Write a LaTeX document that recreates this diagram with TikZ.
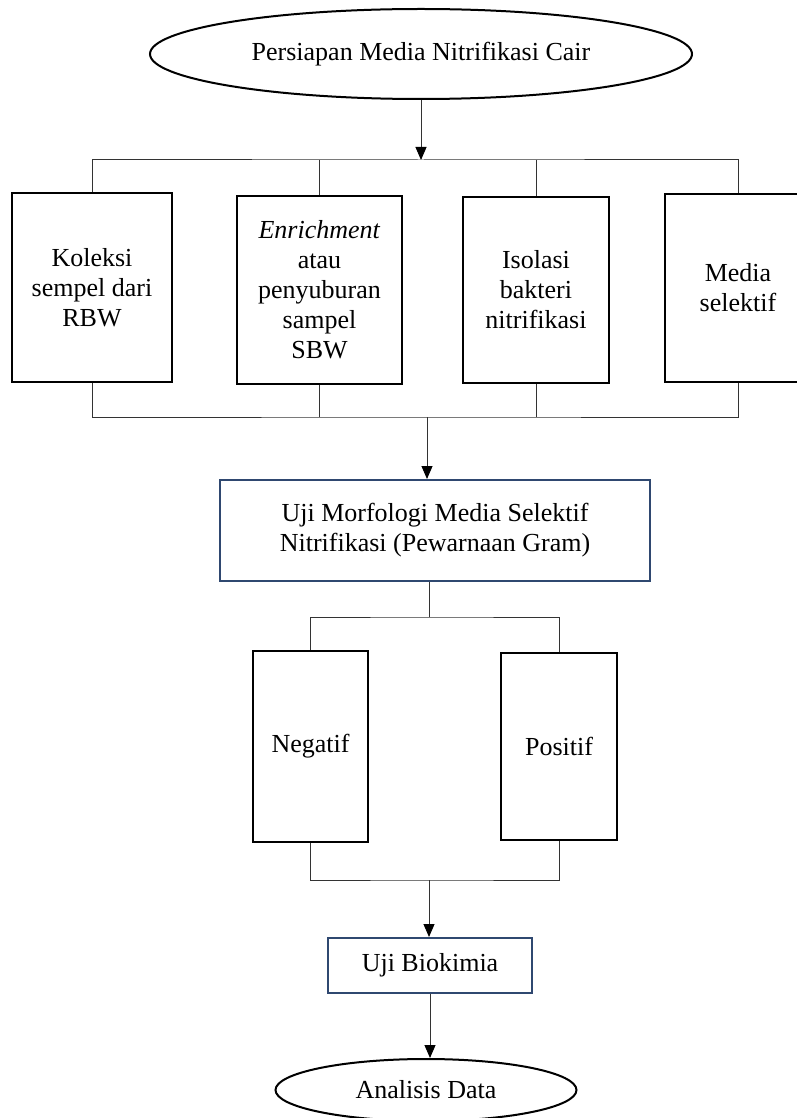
\documentclass[tikz,border=0pt]{standalone}
\usepackage{fontspec}
\setmainfont{Liberation Serif}
\usepackage{xcolor}
\usepackage{tikz}
\usetikzlibrary{calc,arrows.meta,shapes.geometric}
\definecolor{boxblue}{RGB}{47,72,112}

\begin{document}
\begin{tikzpicture}
    % one unit = one pixel of the sheet, y runs downwards
    [x={(0.5pt,0pt)},y={(0pt,-0.5pt)},
     font=\fontsize{13}{15}\selectfont,
     every node/.style={align=center,inner sep=0pt},
     oval/.style={ellipse,draw,line width=1pt},
     tallbox/.style={rectangle,draw,line width=1pt},
     bluebox/.style={rectangle,draw=boxblue,line width=1pt},
     link/.style={line width=0.5pt,draw=black!80},
     arr/.style={link,-{Triangle[width=5.5pt,length=6.5pt,color=black]}}]

    \useasboundingbox (0,0) rectangle (797,1118);

    \node[oval,minimum width=271pt,minimum height=45pt] (persiapan) at (421,54) {Persiapan Media Nitrifikasi Cair};

    \node[tallbox,minimum width=80pt,minimum height=94.5pt] (koleksi) at (92,287.5) {Koleksi\\sempel dari\\RBW};
    \node[tallbox,minimum width=82.5pt,minimum height=94pt] (enrich) at (319.5,290) {\textit{Enrichment}\\atau\\penyuburan\\sampel\\SBW};
    \node[tallbox,minimum width=73pt,minimum height=93pt] (isolasi) at (536,290) {Isolasi\\bakteri\\nitrifikasi};
    \node[tallbox,minimum width=73pt,minimum height=94pt] (medsel) at (738,288) {Media\\selektif};

    \node[bluebox,minimum width=215pt,minimum height=50.5pt] (morfologi) at (435,530.5) {Uji Morfologi Media Selektif\\Nitrifikasi (Pewarnaan Gram)};

    \node[tallbox,minimum width=57.5pt,minimum height=95.5pt] (negatif) at (310.5,746.5) {Negatif};
    \node[tallbox,minimum width=58pt,minimum height=93.5pt] (positif) at (559,746.5) {Positif};

    \node[bluebox,minimum width=102pt,minimum height=27.5pt] (biokimia) at (430,965.5) {Uji Biokimia};
    \node[oval,minimum width=150.5pt,minimum height=31pt] (analisis) at (426,1090) {Analisis Data};

    \coordinate (split1) at (421,160);
    \coordinate (join1) at (427,417);
    \coordinate (split2) at (429,617);
    \coordinate (join2) at (429,880);

    \draw[arr] (persiapan.south) -- (split1);
    \draw[link] (koleksi.north) |- (split1) -| (medsel.north);
    \draw[link] (enrich.north) -- (enrich.north |- split1);
    \draw[link] (isolasi.north) -- (isolasi.north |- split1);

    \draw[link] (koleksi.south) |- (join1) -| (medsel.south);
    \draw[link] (enrich.south) -- (enrich.south |- join1);
    \draw[link] (isolasi.south) -- (isolasi.south |- join1);
    \draw[arr] (join1) -- (join1 |- morfologi.north);

    \draw[link] (split2 |- morfologi.south) -- (split2);
    \draw[link] (negatif.north) |- (split2) -| (positif.north);

    \draw[link] (negatif.south) |- (join2) -| (positif.south);
    \draw[arr] (join2) -- (join2 |- biokimia.north);
    \draw[arr] (biokimia.south) -- (biokimia.south |- analisis.north);
  \end{tikzpicture}
\end{document}
